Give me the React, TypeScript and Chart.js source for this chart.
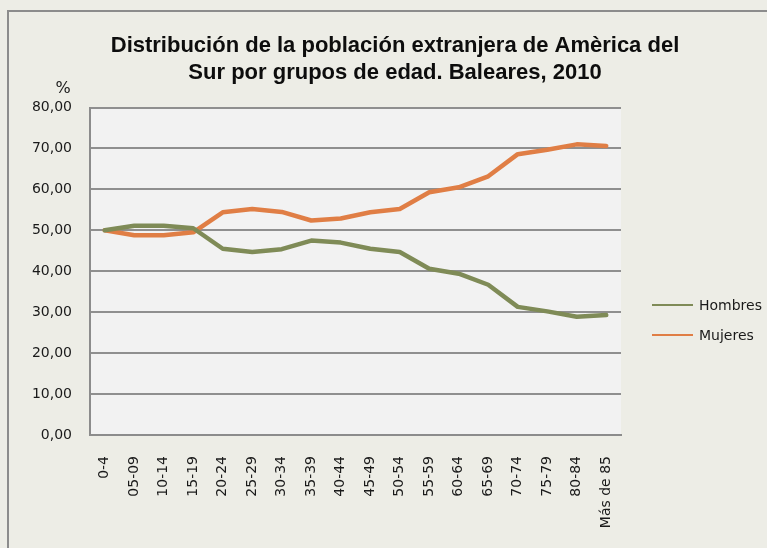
import React, { useEffect, useRef } from "react";
import { Chart, registerables } from "chart.js";

Chart.register(...registerables);

const categories = [
  "0-4", "05-09", "10-14", "15-19", "20-24", "25-29", "30-34", "35-39", "40-44",
  "45-49", "50-54", "55-59", "60-64", "65-69", "70-74", "75-79", "80-84", "Más de 85",
];
const hombres = [50.0, 51.1, 51.1, 50.5, 45.5, 44.7, 45.4, 47.5, 47.0, 45.5, 44.7, 40.6, 39.4, 36.7, 31.3, 30.2, 28.9, 29.3];
const mujeres = [50.0, 48.8, 48.8, 49.5, 54.4, 55.2, 54.5, 52.4, 52.9, 54.4, 55.2, 59.3, 60.5, 63.2, 68.6, 69.7, 71.0, 70.6];
const seriesNames = ["Hombres", "Mujeres"];
const seriesColors = ["#7F8B57", "#E07E45"];
const titleLines = ["Distribución de la población extranjera de Amèrica del", "Sur por grupos de edad. Baleares, 2010"];
const yUnit = "%";

const W = 767;
const H = 548;
const TICK_FONT = "DejaVu Sans";

const decorPlugin = {
  id: "decor",
  beforeDraw(chart: any) {
    const ctx = chart.ctx;
    const a = chart.chartArea;
    ctx.save();
    ctx.fillStyle = "#EDEDE6";
    ctx.fillRect(0, 0, chart.width, chart.height);
    ctx.strokeStyle = "#8C8C8C";
    ctx.lineWidth = 2;
    ctx.strokeRect(8, 11, 900, 900);
    ctx.fillStyle = "#F2F2F2";
    ctx.fillRect(a.left, a.top, a.right - a.left, a.bottom - a.top);
    ctx.restore();
  },
  afterDraw(chart: any) {
    const ctx = chart.ctx;
    ctx.save();
    // title
    ctx.fillStyle = "#0D0D0D";
    ctx.font = "bold 22px 'Liberation Sans', Arial, sans-serif";
    ctx.textAlign = "center";
    ctx.textBaseline = "alphabetic";
    const tx = 395;
    const target = [574, 414];
    titleLines.forEach((line, i) => {
      const y = 51.5 + i * 27;
      const w = ctx.measureText(line).width;
      const s = Math.min(1, target[i] / w);
      ctx.save();
      ctx.translate(tx, y);
      ctx.scale(s, 1);
      ctx.fillText(line, 0, 0);
      ctx.restore();
    });
    // unit label
    const ys = chart.scales.y;
    ctx.font = `16px '${TICK_FONT}'`;
    ctx.fillStyle = "#1A1A1A";
    ctx.textBaseline = "middle";
    ctx.fillText(yUnit, 63, ys.top - 19);
    // legend
    ctx.textAlign = "left";
    ctx.font = `14px '${TICK_FONT}'`;
    chart.data.datasets.forEach((ds: any, i: number) => {
      const y = 305 + i * 30;
      ctx.strokeStyle = ds.borderColor;
      ctx.lineWidth = 2;
      ctx.beginPath();
      ctx.moveTo(652, y);
      ctx.lineTo(693, y);
      ctx.stroke();
      ctx.fillStyle = "#1A1A1A";
      ctx.fillText(ds.label, 699, y + 1);
    });
    ctx.restore();
  },
};

export default function App() {
  const ref = useRef<HTMLCanvasElement | null>(null);
  useEffect(() => {
    if (!ref.current) return;
    const chart = new Chart(ref.current, {
      type: "line",
      data: {
        labels: categories,
        datasets: [
          {
            label: seriesNames[0],
            data: hombres,
            borderColor: seriesColors[0],
            backgroundColor: seriesColors[0],
            borderWidth: 4.5,
            pointRadius: 0,
            tension: 0,
            borderCapStyle: "round",
            borderJoinStyle: "round",
          },
          {
            label: seriesNames[1],
            data: mujeres,
            borderColor: seriesColors[1],
            backgroundColor: seriesColors[1],
            borderWidth: 4.5,
            pointRadius: 0,
            tension: 0,
            borderCapStyle: "round",
            borderJoinStyle: "round",
          },
        ],
      },
      options: {
        responsive: false,
        animation: false,
        layout: { padding: { left: 0, top: 107.5, right: 146, bottom: 0 } },
        plugins: {
          legend: { display: false },
          title: { display: false },
          tooltip: { enabled: false },
        },
        scales: {
          x: {
            offset: true,
            grid: { display: false, drawTicks: false },
            border: { display: true, color: "#8C8C8C", width: 2 },
            ticks: {
              autoSkip: false,
              minRotation: 90,
              maxRotation: 90,
              padding: 21,
              color: "#1A1A1A",
              font: { family: TICK_FONT, size: 14 },
            },
            afterFit(scale: any) {
              scale.height = 113;
            },
          },
          y: {
            min: 0,
            max: 80,
            grid: { color: "#8F8F8F", lineWidth: 2, drawTicks: false },
            border: { display: true, color: "#8C8C8C", width: 2 },
            ticks: {
              stepSize: 10,
              padding: 18,
              color: "#1A1A1A",
              font: { family: TICK_FONT, size: 14 },
              callback: (v: any) => Number(v).toFixed(2).replace(".", ","),
            },
            afterFit(scale: any) {
              scale.width = 90;
            },
          },
        },
      },
      plugins: [decorPlugin],
    });
    return () => chart.destroy();
  }, []);
  return (
    <div style={{ position: "absolute", left: 0, top: 0, width: W, height: H, overflow: "hidden" }}>
      <canvas ref={ref} width={W} height={H} style={{ display: "block" }} />
    </div>
  );
}
